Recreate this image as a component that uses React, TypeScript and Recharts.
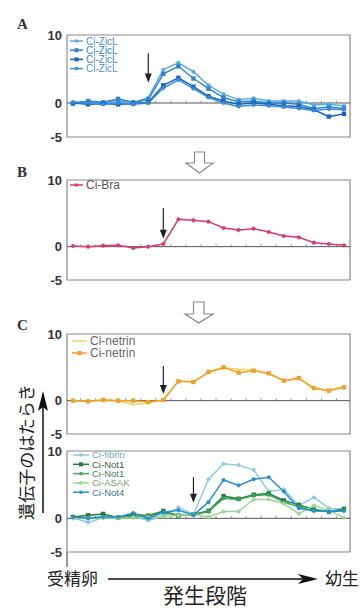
import React from 'react';
import { LineChart, Line, XAxis, YAxis, ReferenceLine, ReferenceArea, Legend } from 'recharts';

// developmental stages (fertilised egg -> larva)
const stages = [0, 1, 2, 3, 4, 5, 6, 7, 8, 9, 10, 11, 12, 13, 14, 15, 16, 17, 18];
const yTicks = [-5, 0, 5, 10];
const yTickLabels = ['-5', '0', '', '10'];

// A: Ci-ZicL (4 probes)
const zicL1 = [0.1, 0.2, 0, 0.3, 0, 0.8, 4.9, 5.9, 4.6, 2.6, 1.3, 0.5, 0.7, 0.3, 0.3, 0.3, -0.3, -0.2, -0.4];
const zicL2 = [-0.1, 0.3, 0.1, 0.6, 0.1, 0.5, 4.3, 5.4, 3.6, 2.1, 0.8, 0.2, 0.3, 0, 0, -0.2, -0.8, -0.6, -0.8];
const zicL3 = [0, -0.2, -0.1, -0.2, -0.1, 0.1, 2.6, 3.7, 2.4, 1.0, 0.3, -0.2, 0, -0.2, -0.4, -0.5, -1.0, -2.0, -1.6];
const zicL4 = [0.1, 0, -0.2, 0, -0.2, 0, 2.2, 3.4, 2.1, 0.8, 0, -0.5, -0.3, -0.4, -0.6, -0.8, -1.1, -0.9, -1.0];

// B: Ci-Bra
const bra = [0.1, 0, 0.15, 0.2, -0.2, 0, 0.4, 4.1, 3.95, 3.75, 2.8, 2.5, 2.7, 2.2, 1.6, 1.4, 0.6, 0.4, 0.2];

// C: Ci-netrin (2 probes)
const netrin1 = [0, -0.1, 0.1, 0, -0.6, -0.3, 0.1, 3.0, 2.8, 4.2, 4.9, 4.7, 4.6, 4.0, 3.0, 3.3, 1.8, 1.6, 2.1];
const netrin2 = [0, -0.1, 0.1, 0, 0, -0.2, 0.1, 2.9, 2.8, 4.3, 5.0, 4.2, 4.5, 4.1, 3.0, 3.4, 1.9, 1.5, 2.0];

// D: notochord genes
const fibrin = [0.1, -0.6, 0.1, 0.1, 0.3, -0.3, 0.3, 1.6, 0.6, 5.8, 8.1, 7.9, 7.2, 4.0, 4.3, 1.9, 3.1, 1.5, 1.3];
const not1a = [0.2, 0.45, 0.65, 0.1, 0.6, 0.4, 1.1, 0.4, 0.6, 1.1, 3.3, 2.9, 3.5, 3.7, 2.65, 2.0, 1.3, 1.0, 1.4];
const not1b = [0.1, 0.1, 0.2, 0.1, 0.3, 0.3, 0.8, 0.5, 0.5, 1.0, 3.0, 2.8, 3.4, 3.5, 2.4, 1.7, 1.2, 1.1, 1.2];
const asak = [0, 0, 0.1, 0, 0.1, 0.2, 0.3, 0.4, 0.6, 0.2, 1.0, 1.0, 2.8, 2.8, 2.2, 0.7, 1.9, 1.2, 0.1];
const not4 = [0.2, 0, 0.2, 0.2, 0.8, 0, 0.9, 1.2, 0.5, 2.4, 5.7, 4.9, 5.8, 6.1, 4.0, 1.5, 1.1, 1.0, 1.1];

type Marker = 'dot' | 'square' | 'none';
interface Series {
  key: string;
  name: string;
  values: number[];
  color: string;
  text: string;
  marker: Marker;
}

const seriesA: Series[] = [
  { key: 'z1', name: 'Ci-ZicL', values: zicL1, color: '#5aaae6', text: '#3f8fd6', marker: 'dot' },
  { key: 'z2', name: 'Ci-ZicL', values: zicL2, color: '#2f84d0', text: '#2f7fcc', marker: 'square' },
  { key: 'z3', name: 'Ci-ZicL', values: zicL3, color: '#1766bb', text: '#3a86d0', marker: 'square' },
  { key: 'z4', name: 'Ci-ZicL', values: zicL4, color: '#3b8ed8', text: '#4a95da', marker: 'dot' },
];
const seriesB: Series[] = [
  { key: 'bra', name: 'Ci-Bra', values: bra, color: '#d93a6c', text: '#555', marker: 'dot' },
];
const seriesC: Series[] = [
  { key: 'n1', name: 'Ci-netrin', values: netrin1, color: '#f6cf5a', text: '#666', marker: 'none' },
  { key: 'n2', name: 'Ci-netrin', values: netrin2, color: '#efa12a', text: '#666', marker: 'square' },
];
const seriesD: Series[] = [
  { key: 'fib', name: 'Ci-fibrin', values: fibrin, color: '#8ccbe8', text: '#6aa8c8', marker: 'dot' },
  { key: 'na', name: 'Ci-Not1', values: not1a, color: '#1f7a3c', text: '#3d5a48', marker: 'square' },
  { key: 'nb', name: 'Ci-Not1', values: not1b, color: '#3aa65a', text: '#4a7a58', marker: 'dot' },
  { key: 'as', name: 'Ci-ASAK', values: asak, color: '#9fd59c', text: '#7a9a80', marker: 'dot' },
  { key: 'n4', name: 'Ci-Not4', values: not4, color: '#2a8ed0', text: '#3a6f98', marker: 'dot' },
];

const toRows = (series: Series[]) =>
  stages.map((s, i) => {
    const row: Record<string, number> = { stage: s };
    series.forEach((se) => {
      row[se.key] = se.values[i];
    });
    return row;
  });

const makeDot = (m: Marker, color: string) => {
  if (m === 'none') return false;
  if (m === 'dot') return { r: 1.8, fill: color, stroke: color, strokeWidth: 0.5 };
  return (p: any) => (
    <rect key={p.key} x={p.cx - 2.2} y={p.cy - 2.2} width={4.4} height={4.4} fill={p.stroke || color} />
  );
};

const DownArrow = (p: any) => {
  const { x1, y1, x2, y2 } = p;
  return (
    <g>
      <line x1={x1} y1={y1} x2={x2} y2={y2 - 8} stroke="#222" strokeWidth={1.2} />
      <path d={`M${x2 - 3.5},${y2 - 9} L${x2 + 3.5},${y2 - 9} L${x2},${y2} Z`} fill="#222" />
    </g>
  );
};

const LegendBox = ({ series, gap, font, iconW }: { series: Series[]; gap: number; font: number; iconW: number }) => (
  <svg width={90} height={series.length * gap + 8} style={{ overflow: 'visible', display: 'block' }}>
    {series.map((s, i) => {
      const y = 4 + i * gap;
      return (
        <g key={s.key + i}>
          <line x1={0} x2={iconW} y1={y} y2={y} stroke={s.color} strokeWidth={1.5} />
          {s.marker === 'dot' && <circle cx={iconW / 2} cy={y} r={1.8} fill={s.color} />}
          {s.marker === 'square' && <rect x={iconW / 2 - 2} y={y - 2} width={4} height={4} fill={s.color} />}
          <text x={iconW + 3} y={y} dy="0.36em" fontSize={font} fill={s.text} fontFamily="'Liberation Sans', Arial, sans-serif">
            {s.name}
          </text>
        </g>
      );
    })}
  </svg>
);

interface PanelProps {
  top: number;
  plotH: number;
  series: Series[];
  arrow: { at: number; from: number; to: number };
  legend: { left: number; top: number; gap: number; font: number; iconW: number };
}

const Panel = ({ top, plotH, series, arrow, legend }: PanelProps) => (
  <div style={{ position: 'absolute', left: 0, top }}>
    <LineChart width={363} height={plotH + 20} data={toRows(series)} margin={{ top: 10, right: 13, bottom: 10, left: 37 }}>
      <XAxis dataKey="stage" type="number" domain={[-0.4, 18.4]} hide />
      <YAxis
        domain={[-5, 10]}
        ticks={yTicks}
        width={30}
        tickLine={false}
        axisLine={false}
        tickSize={3}
        tickMargin={2}
        interval={0}
        tickFormatter={(v: number) => yTickLabels[yTicks.indexOf(v)]}
        tick={{ fontSize: 13, fontWeight: 700, fill: '#333', fontFamily: "'Liberation Sans', Arial, sans-serif" }}
      />
      <ReferenceArea x1={-0.4} x2={18.4} y1={-5} y2={10} fill="#fff" fillOpacity={0} stroke="#8a8a8a" strokeWidth={1.2} />
      <ReferenceLine y={0} stroke="#555" strokeWidth={1} />
      {stages.slice(0, 18).map((s) => (
        <ReferenceLine key={s} segment={[{ x: s + 0.5, y: 0 }, { x: s + 0.5, y: 0.35 }]} stroke="#777" strokeWidth={0.8} />
      ))}
      <ReferenceLine
        segment={[{ x: arrow.at, y: arrow.from }, { x: arrow.at, y: arrow.to }]}
        shape={DownArrow}
      />
      {series.map((s) => (
        <Line
          key={s.key}
          dataKey={s.key}
          type="linear"
          stroke={s.color}
          strokeWidth={1.5}
          dot={makeDot(s.marker, s.color) as any}
          activeDot={false}
          isAnimationActive={false}
        />
      ))}
      <Legend
        layout="vertical"
        align="center"
        verticalAlign="middle"
        wrapperStyle={{ top: legend.top, left: legend.left, width: 100 }}
        content={() => <LegendBox series={series} gap={legend.gap} font={legend.font} iconW={legend.iconW} />}
      />
    </LineChart>
  </div>
);

const jp = "'Noto Sans CJK JP', 'Noto Sans CJK SC', sans-serif";
const serif = "'Liberation Serif', 'DejaVu Serif', serif";

export default function App() {
  return (
    <div style={{ position: 'absolute', left: 0, top: 0, width: 363, height: 608, background: '#fff', overflow: 'hidden' }}>
      <svg width={363} height={608} style={{ position: 'absolute', left: 0, top: 0 }}>
        {/* panel letters */}
        <text x={17} y={29} fontFamily={serif} fontWeight={700} fontSize={15} fill="#333">A</text>
        <text x={17} y={177} fontFamily={serif} fontWeight={700} fontSize={15} fill="#333">B</text>
        <text x={17} y={330} fontFamily={serif} fontWeight={700} fontSize={15} fill="#333">C</text>
        {/* hollow arrows between panels */}
        <path d="M194.5,152 L204.5,152 L204.5,163 L213,163 L199.5,173 L186,163 L194.5,163 Z" fill="#fff" stroke="#888" strokeWidth={1.2} />
        <path d="M193.5,302 L204,302 L204,314 L213,314 L198.8,323 L185,314 L193.5,314 Z" fill="#fff" stroke="#888" strokeWidth={1.2} />
        {/* y label */}
        <text x={0} y={0} transform="translate(33,452) rotate(-90)" textAnchor="middle" fontFamily={jp} fontSize={17} fill="#222">
          遺伝子のはたらき
        </text>
        <line x1={43} y1={513} x2={43} y2={405} stroke="#111" strokeWidth={1.5} />
        <path d="M38,411 L43,391 L48,411 L43,407 Z" fill="#111" />
        {/* time axis */}
        <line x1={67} y1={552} x2={67} y2={567} stroke="#333" strokeWidth={1} />
        <text x={47} y={585} fontFamily={jp} fontSize={17} fill="#222">受精卵</text>
        <line x1={108} y1={579} x2={304} y2={579} stroke="#111" strokeWidth={1.5} />
        <path d="M298,574 L318,579 L298,584 L303,579 Z" fill="#111" />
        <text x={325} y={585} fontFamily={jp} fontSize={17} fill="#222">幼生</text>
        <text x={205} y={603} textAnchor="middle" fontFamily={jp} fontSize={21} fill="#222">発生段階</text>
      </svg>
      <Panel top={25} plotH={102} series={seriesA} arrow={{ at: 5, from: 7.3, to: 3.0 }} legend={{ left: 70, top: 12, gap: 9.2, font: 10, iconW: 13 }} />
      <Panel top={170} plotH={100} series={seriesB} arrow={{ at: 6, from: 5.8, to: 1.2 }} legend={{ left: 70, top: 11, gap: 9, font: 12, iconW: 13 }} />
      <Panel top={324} plotH={100} series={seriesC} arrow={{ at: 6, from: 5.2, to: 1.0 }} legend={{ left: 72, top: 12.5, gap: 12, font: 12, iconW: 15 }} />
      <Panel top={441} plotH={101} series={seriesD} arrow={{ at: 8, from: 6.1, to: 2.3 }} legend={{ left: 73, top: 10, gap: 9.3, font: 9.5, iconW: 16 }} />
    </div>
  );
}
